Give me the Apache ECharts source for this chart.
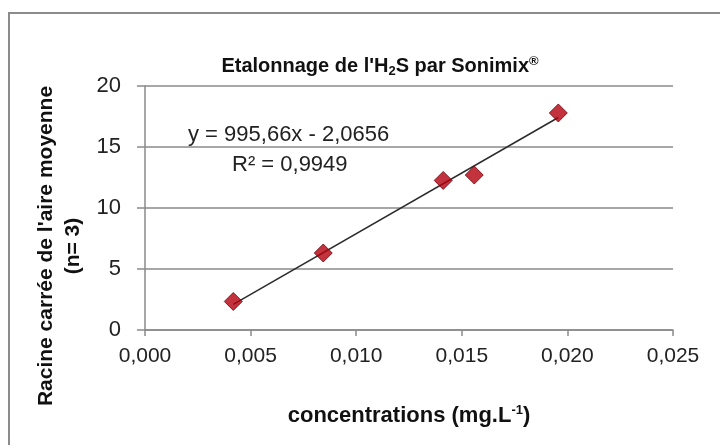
<!DOCTYPE html>
<html>
<head>
<meta charset="utf-8">
<script src="https://cdn.jsdelivr.net/npm/echarts@6/dist/echarts.min.js"></script>
<style>
  html, body { margin: 0; padding: 0; background: #fff; }
  #chart { width: 720px; height: 445px; }
</style>
</head>
<body>
<div id="chart"></div>
<script>
// Calibration points: H2S concentration (mg/L) vs square root of mean peak area (n = 3)
const concentrations = [0.00418, 0.00844, 0.01412, 0.01559, 0.01957];
const racineAire = [2.34, 6.31, 12.26, 12.70, 17.79];

// Linear trend line reported on the chart
const slope = 995.66;
const intercept = -2.0656;
const r2 = 0.9949;

// Axis tick values
const xTicks = [0, 0.005, 0.010, 0.015, 0.020, 0.025];
const yTicks = [0, 5, 10, 15, 20];

const FONT = "'Liberation Sans', Arial, sans-serif";
const fmt = (v, d) => v.toFixed(d).replace('.', ',');

const points = concentrations.map((c, i) => [c, racineAire[i]]);
const xMin = Math.min(...concentrations);
const xMax = Math.max(...concentrations);
const trend = [[xMin, slope * xMin + intercept], [xMax, slope * xMax + intercept]];

const chart = echarts.init(document.getElementById('chart'), null, { renderer: 'canvas' });

chart.setOption({
  backgroundColor: '#ffffff',
  animation: false,
  title: {
    text: "{a|Etalonnage de l'H}{sub|2}{a|S par Sonimix}{sup|®}",
    left: 375,
    top: 50,
    textAlign: 'center',
    textStyle: {
      rich: {
        a: { fontFamily: FONT, fontWeight: 'bold', fontSize: 20, color: '#111' },
        sub: { fontFamily: FONT, fontWeight: 'bold', fontSize: 13, color: '#111', padding: [10, 0, 0, 0] },
        sup: { fontFamily: FONT, fontWeight: 'bold', fontSize: 13, color: '#111', padding: [0, 0, 10, 0] }
      }
    }
  },
  grid: { left: 145, right: 47, top: 86, bottom: 115, containLabel: false },
  xAxis: {
    type: 'value',
    min: xTicks[0],
    max: xTicks[xTicks.length - 1],
    interval: 0.005,
    name: '{a|concentrations (mg.L}{sup|-1}{a|)}',
    nameLocation: 'middle',
    nameGap: 74,
    nameTextStyle: {
      rich: {
        a: { fontFamily: FONT, fontWeight: 'bold', fontSize: 22, color: '#111' },
        sup: { fontFamily: FONT, fontWeight: 'bold', fontSize: 13, color: '#111', padding: [0, 0, 10, 0] }
      }
    },
    axisLine: { show: true, lineStyle: { color: '#8a8a8a', width: 1.5 } },
    axisTick: { show: true, inside: false, length: 6, lineStyle: { color: '#8a8a8a', width: 1.5 } },
    axisLabel: {
      margin: 16,
      fontFamily: FONT, fontSize: 21, color: '#222',
      formatter: v => fmt(v, 3)
    },
    splitLine: { show: false }
  },
  yAxis: {
    type: 'value',
    min: yTicks[0],
    max: yTicks[yTicks.length - 1],
    interval: 5,
    axisLine: { show: true, lineStyle: { color: '#8a8a8a', width: 1.5 } },
    axisTick: { show: true, inside: false, length: 8, lineStyle: { color: '#8a8a8a', width: 1.5 } },
    axisLabel: { margin: 24, fontFamily: FONT, fontSize: 22, color: '#222' },
    splitLine: { show: true, lineStyle: { color: '#8a8a8a', width: 1.5 } }
  },
  graphic: [
    {
      type: 'rect',
      silent: true,
      z: -1,
      shape: { x: 9, y: 13, width: 760, height: 480 },
      style: { fill: 'none', stroke: '#8c8c8c', lineWidth: 2 }
    },
    {
      type: 'text',
      x: 60,
      y: 246,
      rotation: Math.PI / 2,
      style: {
        text: "Racine carrée de l'aire moyenne\n(n= 3)",
        font: 'bold 21px ' + FONT,
        fill: '#111',
        align: 'center',
        verticalAlign: 'middle',
        textAlign: 'center',
        textVerticalAlign: 'middle',
        lineHeight: 27
      }
    },
    {
      type: 'text',
      left: 188,
      top: 124,
      style: {
        text: 'y = ' + fmt(slope, 2) + 'x - ' + fmt(-intercept, 4),
        font: '22px ' + FONT,
        fill: '#222'
      }
    },
    {
      type: 'text',
      left: 232,
      top: 154,
      style: {
        text: 'R² = ' + fmt(r2, 4),
        font: '22px ' + FONT,
        fill: '#222'
      }
    }
  ],
  series: [
    {
      type: 'line',
      data: trend,
      symbol: 'none',
      lineStyle: { color: '#2b2b2b', width: 1.5 },
      z: 2
    },
    {
      type: 'scatter',
      data: points,
      symbol: 'diamond',
      symbolSize: [18, 18],
      itemStyle: { color: '#b4000c', borderColor: '#6e000a', borderWidth: 1 },
      z: 3
    }
  ]
});
</script>
</body>
</html>
